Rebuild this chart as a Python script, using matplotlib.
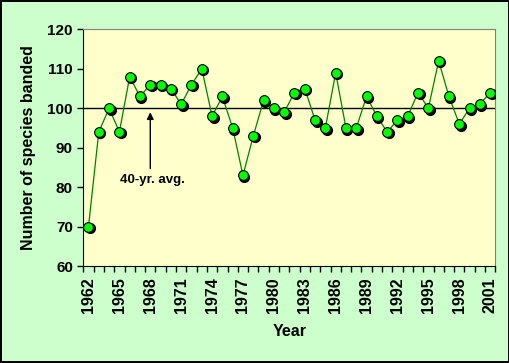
import numpy as np
from matplotlib import pyplot as plt
from matplotlib import transforms

# Datos
years = list(range(1962, 2002))
species = [70, 94, 100, 94, 108, 103, 106, 106, 105, 101,
           106, 110, 98, 103, 95, 83, 93, 102, 100, 99,
           104, 105, 97, 95, 109, 95, 95, 103, 98, 94,
           97, 98, 104, 100, 112, 103, 96, 100, 101, 104]
label_years = list(range(1962, 2002, 3))
avg_value = 100
avg_year = 1968

plt.rcParams['font.family'] = ['Liberation Sans', 'DejaVu Sans']
plt.rcParams['font.weight'] = 'bold'

fig = plt.figure(figsize=(5.1, 3.63), dpi=100)
fig.patch.set_facecolor('#CCFFCC')
fig.patch.set_edgecolor('black')
fig.patch.set_linewidth(1.5)
ax = fig.add_axes([0.1634, 0.267, 0.8078, 0.652])
ax.set_facecolor('#FFFFCC')

# Línea del promedio
ax.axhline(y=avg_value, color='black', lw=1.0, zorder=2)

# Serie con sombra
ax.plot(years, species, color='#008000', lw=0.9, zorder=3)
sombra = ax.transData + transforms.ScaledTranslation(1.5/100, -1.5/100, fig.dpi_scale_trans)
ax.plot(years, species, 'o', ms=7, color='black', transform=sombra, zorder=4)
ax.plot(years, species, 'o', ms=7, mfc='#00FF00', mec='black', mew=0.8, zorder=5)

# Flecha y texto
ax.annotate('', xy=(avg_year, avg_value - 0.3), xytext=(avg_year, 84),
            arrowprops=dict(arrowstyle='-|>', color='black', lw=1, mutation_scale=10), zorder=6)
ax.text(avg_year + 0.2, 81.7, '40-yr. avg.', ha='center', va='center', fontsize=9.5, fontweight='bold')

# Ejes
ax.set_xlim(1961.5, 2001.5)
ax.set_ylim(60, 120)
ax.set_yticks(np.arange(60, 121, 10))
ax.set_xticks(label_years)
ax.set_xticklabels([str(y) for y in label_years], rotation=90, fontsize=11.5)
ax.set_xticks(np.arange(1961.5, 2002, 1), minor=True)
ax.tick_params(axis='x', which='major', length=0, pad=8)
ax.tick_params(axis='x', which='minor', length=4, direction='out', width=1)
ax.tick_params(axis='y', length=4, direction='out', width=1, labelsize=11)
ax.spines['top'].set_color('#808080')
ax.spines['right'].set_color('#808080')
ax.set_ylabel('Number of species banded', fontsize=11.5, fontweight='bold', labelpad=8)
ax.set_xlabel('Year', fontsize=11.5, fontweight='bold', labelpad=8)

fig.savefig('out.png', dpi=100, facecolor=fig.get_facecolor(), edgecolor=fig.get_edgecolor())
